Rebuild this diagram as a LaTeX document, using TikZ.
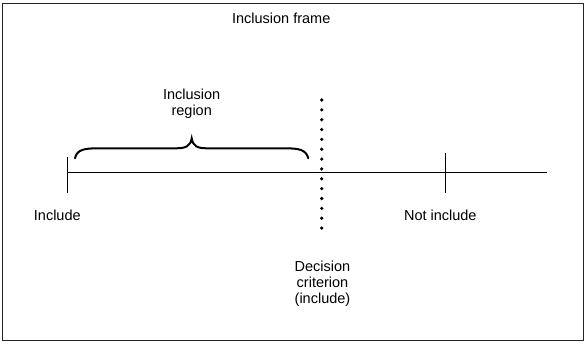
\documentclass[tikz,border=0pt]{standalone}
\usepackage{fontspec}
\setmainfont{Liberation Sans}
\begin{document}
\begin{tikzpicture}[x=1pt,y=-1pt,
  lbl/.style={font=\fontsize{14.5}{16}\selectfont, align=center, inner sep=0pt},
  axis/.style={line width=1pt, black},
  brace/.style={line width=2pt, line cap=round, black},
  dots/.style={line width=3.6pt, line cap=round, dash pattern=on 0pt off 9.85pt}]
\useasboundingbox (0,0) rectangle (586,343);
\draw[line width=1.3pt, black!85] (2.6,3.6) rectangle (583.8,340.3);
\node[lbl] (title) at (281.2,18.5) {Inclusion frame};
% axis
\coordinate (L) at (67.3,172.3);
\coordinate (R) at (547.3,172.3);
\coordinate (T) at (445,172.3);
\draw[axis] (L) -- (R);
\draw[axis] ([yshift=-20.6pt]L) -- ([yshift=15.7pt]L);
\draw[axis] ([yshift=-20.6pt]T) -- ([yshift=19.4pt]T);
% dotted decision line
\coordinate (Dtop) at (321.7,100);
\coordinate (Dbot) at (321.7,228.1);
\draw[dots] (Dtop) -- (Dbot);
% brace
\coordinate (B1) at (75,158.3);
\coordinate (Btip) at (191.7,138.3);
\coordinate (B2) at (308.3,158.3);
\draw[brace] (B1) .. controls (77,150) and (83,148.3) .. (98,148.3) -- (176,148.3)
  .. controls (186,148.3) and (190.5,146) .. (Btip)
  .. controls (193,146) and (197,148.3) .. (207,148.3) -- (285,148.3)
  .. controls (300,148.3) and (306,150) .. (B2);
% labels
\node[lbl] (region) at (191.7,104) {Inclusion\\region};
\node[lbl] (inc) at (57.3,215.5) {Include};
\node[lbl] (notinc) at (440.3,215.5) {Not include};
\node[lbl] (dec) at (322.5,283.5) {Decision\\criterion\\(include)};
\end{tikzpicture}
\end{document}
